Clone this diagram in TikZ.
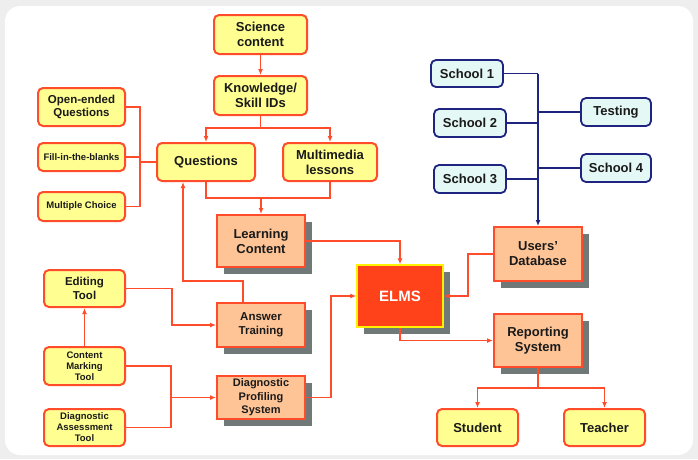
\documentclass[tikz,border=0pt]{standalone}
\usepackage{fontspec}
\setmainfont{Liberation Sans}
\usetikzlibrary{arrows.meta, shadows}

\definecolor{lineorange}{RGB}{255,76,42}
\definecolor{paleyellow}{RGB}{255,255,145}
\definecolor{peach}{RGB}{255,196,150}
\definecolor{elmsred}{RGB}{255,66,26}
\definecolor{navy}{RGB}{30,36,128}
\definecolor{palecyan}{RGB}{228,248,246}
\definecolor{shadowgray}{RGB}{112,120,120}
\definecolor{panelgray}{RGB}{238,238,238}
\definecolor{textdark}{RGB}{26,26,26}

\tikzset{
    yellowbox/.style={draw=lineorange, line width=2pt, fill=paleyellow,
        rounded corners=5pt, align=center, inner sep=1pt, text=textdark},
    peachbox/.style={draw=lineorange, line width=2pt, fill=peach, align=center,
        inner sep=1pt, text=textdark, drop shadow={shadow xshift=7pt, shadow yshift=-7pt,
        fill=shadowgray, opacity=1}},
    bluebox/.style={draw=navy, line width=1.8pt, fill=palecyan,
        rounded corners=5pt, align=center, inner sep=1pt, text=textdark},
    link/.style={draw=lineorange, line width=1.8pt, -{Latex[length=6pt,width=5pt]}},
    plainlink/.style={draw=lineorange, line width=1.8pt},
    bluelink/.style={draw=navy, line width=1.9pt},
    big/.style={font=\bfseries\fontsize{13}{15}\selectfont},
    mid/.style={font=\bfseries\fontsize{11.5}{13.5}\selectfont},
    small/.style={font=\bfseries\fontsize{9.5}{11}\selectfont},
}

\begin{document}
\begin{tikzpicture}[x=1pt, y=-1pt, font=\bfseries]
    \useasboundingbox (0,0) rectangle (698,459);
    \fill[panelgray] (0,0) rectangle (698,459);
    \fill[white, rounded corners=15pt] (5,6) rectangle (693,455);

    \node[yellowbox, big, minimum width=93pt, minimum height=39pt] (Science) at (260.5,34.5) {Science\\content};
    \node[yellowbox, big, minimum width=93pt, minimum height=39pt] (Knowledge) at (260.5,95.5) {Knowledge/\\Skill IDs};
    \node[yellowbox, mid, minimum width=87pt, minimum height=38pt] (OpenQ) at (81.5,107) {Open-ended\\Questions};
    \node[yellowbox, small, minimum width=87pt, minimum height=28pt] (FillIn) at (81.5,157) {Fill-in-the-blanks};
    \node[yellowbox, small, minimum width=87pt, minimum height=29pt] (Multiple) at (81.5,206.5) {Multiple Choice};
    \node[yellowbox, big, minimum width=98pt, minimum height=38pt] (Questions) at (206,162) {Questions};
    \node[yellowbox, big, minimum width=94pt, minimum height=38pt] (Multimedia) at (330,162) {Multimedia\\lessons};

    \node[peachbox, big, minimum width=88pt, minimum height=52pt] (Learning) at (261,241) {Learning\\Content};
    \node[peachbox, mid, minimum width=88pt, minimum height=44pt] (Answer) at (261,325) {Answer\\Training};
    \node[peachbox, font=\bfseries\fontsize{11}{13.5}\selectfont, minimum width=88pt, minimum height=43pt] (Profiling) at (261,397.5) {Diagnostic\\Profiling\\System};
    \node[draw=yellow, line width=1.4pt, fill=elmsred, text=white, minimum width=86pt, minimum height=62pt,
        font=\bfseries\fontsize{15}{17}\selectfont, drop shadow={shadow xshift=7pt, shadow yshift=-7pt, fill=shadowgray, opacity=1}] (ELMS) at (400,296) {ELMS};
    \node[peachbox, big, minimum width=88pt, minimum height=54pt] (Users) at (538,254) {Users'\\Database};
    \node[peachbox, big, minimum width=88pt, minimum height=53pt] (Reporting) at (538,340.5) {Reporting\\System};

    \node[yellowbox, big, minimum width=81pt, minimum height=37pt] (Student) at (477.5,427.5) {Student};
    \node[yellowbox, big, minimum width=81pt, minimum height=37pt] (Teacher) at (604.5,427.5) {Teacher};
    \node[yellowbox, mid, minimum width=81pt, minimum height=37pt] (Editing) at (84.5,288.5) {Editing\\Tool};
    \node[yellowbox, small, minimum width=81pt, minimum height=38pt] (Marking) at (84.5,366) {Content\\Marking\\Tool};
    \node[yellowbox, small, minimum width=81pt, minimum height=37pt] (Assessment) at (84.5,427.5) {Diagnostic\\Assessment\\Tool};

    \node[bluebox, big, minimum width=72pt, minimum height=27pt] (School1) at (467,73.5) {School 1};
    \node[bluebox, big, minimum width=72pt, minimum height=28pt] (School2) at (470,123) {School 2};
    \node[bluebox, big, minimum width=72pt, minimum height=28pt] (School3) at (470,179) {School 3};
    \node[bluebox, big, minimum width=70pt, minimum height=28pt] (Testing) at (616,112) {Testing};
    \node[bluebox, big, minimum width=70pt, minimum height=28pt] (School4) at (616,168) {School 4};

    \coordinate (KSplit) at (260.5,128);
    \coordinate (QBus) at (140,162);
    \coordinate (LBus) at (261,198);
    \coordinate (DBus) at (171,397.5);
    \coordinate (RSplit) at (538,388);
    \coordinate (Trunk) at (538,73.5);

    \draw[link] (Science) -- (Knowledge);
    \draw[plainlink] (Knowledge) -- (KSplit);
    \draw[link] (KSplit) -| (Questions);
    \draw[link] (KSplit) -| (Multimedia);

    \draw[plainlink] (OpenQ) -| (QBus);
    \draw[plainlink] (Multiple) -| (QBus);
    \draw[plainlink] (FillIn) -- (FillIn -| QBus);
    \draw[plainlink] (QBus) -- (Questions);

    \draw[plainlink] (Questions) |- (LBus) -| (Multimedia);
    \draw[link] (LBus) -- (Learning);
    \draw[link] (Learning) -| (ELMS);
    \draw[link] (Profiling.east) -- ++(25,0) |- (ELMS);
    \draw[link] ([xshift=-18pt]Answer.north) -- ++(0,-21) -| ([xshift=-23pt]Questions.south);

    \draw[link] (Marking) -- (Editing);
    \draw[link] (Editing.east) -- ++(46,0) |- (Answer);
    \draw[plainlink] (Marking) -| (DBus);
    \draw[plainlink] (Assessment) -| (DBus);
    \draw[link] (DBus) -- (Profiling);

    \draw[link] (Users.west) -- ++(-25,0) |- (ELMS);
    \draw[link] (ELMS) |- (Reporting);
    \draw[plainlink] (Reporting) -- (RSplit);
    \draw[link] (RSplit) -| (Student);
    \draw[link] (RSplit) -| (Teacher);

    \draw[bluelink] (School1) -- (Trunk);
    \draw[bluelink, -{Latex[length=6pt,width=5pt]}] (Trunk) -- (Users);
    \draw[bluelink] (School2) -- (School2 -| Trunk);
    \draw[bluelink] (School3) -- (School3 -| Trunk);
    \draw[bluelink] (Testing) -- (Testing -| Trunk);
    \draw[bluelink] (School4) -- (School4 -| Trunk);
\end{tikzpicture}
\end{document}
